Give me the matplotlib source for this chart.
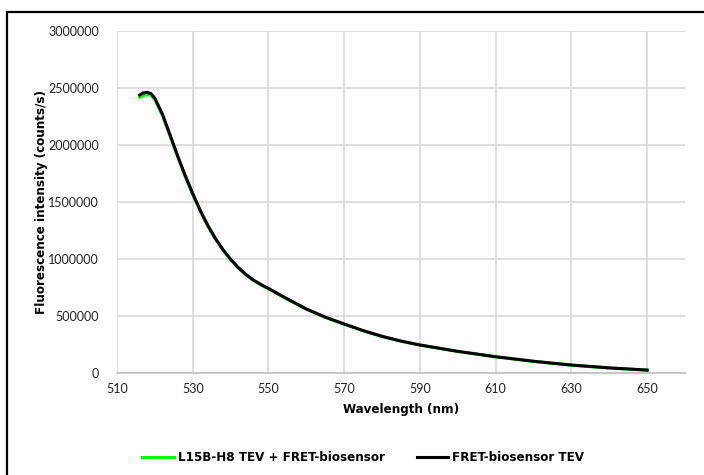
import matplotlib.pyplot as plt
from matplotlib.patches import Rectangle
from matplotlib.ticker import FuncFormatter

# emission spectra (nm, counts/s)
wavelength = [516, 517, 518, 519, 520, 522, 524, 526, 528, 530, 532, 534, 536, 538,
              540, 542, 544, 546, 548, 550, 555, 560, 565, 570, 575, 580, 585, 590,
              600, 610, 620, 630, 640, 650]
tev_biosensor = [2439000, 2458000, 2462000, 2450000, 2410000, 2270000, 2090000,
                 1906000, 1734000, 1574000, 1426000, 1294000, 1180000, 1082000,
                 998000, 926000, 866000, 816000, 776000, 742000, 650000, 562000,
                 490000, 430000, 372000, 322000, 280000, 246000, 190000, 143000,
                 103000, 70000, 45000, 26000]
l15b_tev_biosensor = [2418000, 2435000, 2442000, 2435000, 2398000, 2260000, 2080000,
                      1896000, 1724000, 1565000, 1418000, 1287000, 1174000, 1077000,
                      993000, 921000, 862000, 812000, 773000, 739000, 647000, 560000,
                      488000, 428000, 370000, 320000, 279000, 245000, 189000, 142000,
                      102000, 69000, 44000, 25000]

fig = plt.figure(figsize=(7.04, 4.75), dpi=100)
ax = fig.add_axes([0.1662, 0.2147, 0.8068, 0.72])

ax.plot(wavelength, l15b_tev_biosensor, color='#00ff00', lw=2.2,
        label='L15B-H8 TEV + FRET-biosensor')
ax.plot(wavelength, tev_biosensor, color='black', lw=2.2,
        label='FRET-biosensor TEV')

ax.set_xlim(510, 660)
ax.set_ylim(0, 3000000)
ax.set_xticks(range(510, 651, 20))
ax.set_yticks(range(0, 3000001, 500000))
ax.yaxis.set_major_formatter(FuncFormatter(lambda v, p: '%d' % v))
ax.grid(True, color='#d9d9d9', lw=1.2)
ax.set_axisbelow(True)
for s in ['top', 'right', 'left']:
    ax.spines[s].set_visible(False)
ax.spines['bottom'].set_color('#bfbfbf')
ax.spines['bottom'].set_linewidth(1.2)
ax.tick_params(length=0, labelsize=9, pad=7, labelcolor='#222222')
ax.tick_params(axis='y', pad=13)
for t in ax.get_xticklabels() + ax.get_yticklabels():
    t.set_family('Lato')

lab = dict(fontsize=9.5, fontweight='bold', fontstretch='condensed',
           family=['DejaVu Sans'])
ax.set_xlabel('Wavelength (nm)', labelpad=6, **lab)
ax.set_ylabel('Fluorescence intensity (counts/s)', labelpad=0, **lab)

leg = fig.legend(loc='center', bbox_to_anchor=(0.516, 0.036), ncol=2, frameon=False,
                 handlelength=2.4, columnspacing=2.4, handletextpad=0.3,
                 prop={'family': 'DejaVu Sans', 'stretch': 'condensed',
                       'weight': 'bold', 'size': 9.5})

# chart frame
fig.patches.append(Rectangle((7 / 704, -0.1), 1.2, 1 - 12 / 475 + 0.1,
                             transform=fig.transFigure, fill=False,
                             edgecolor='black', lw=1.6))

fig.savefig('out.png', dpi=100)
